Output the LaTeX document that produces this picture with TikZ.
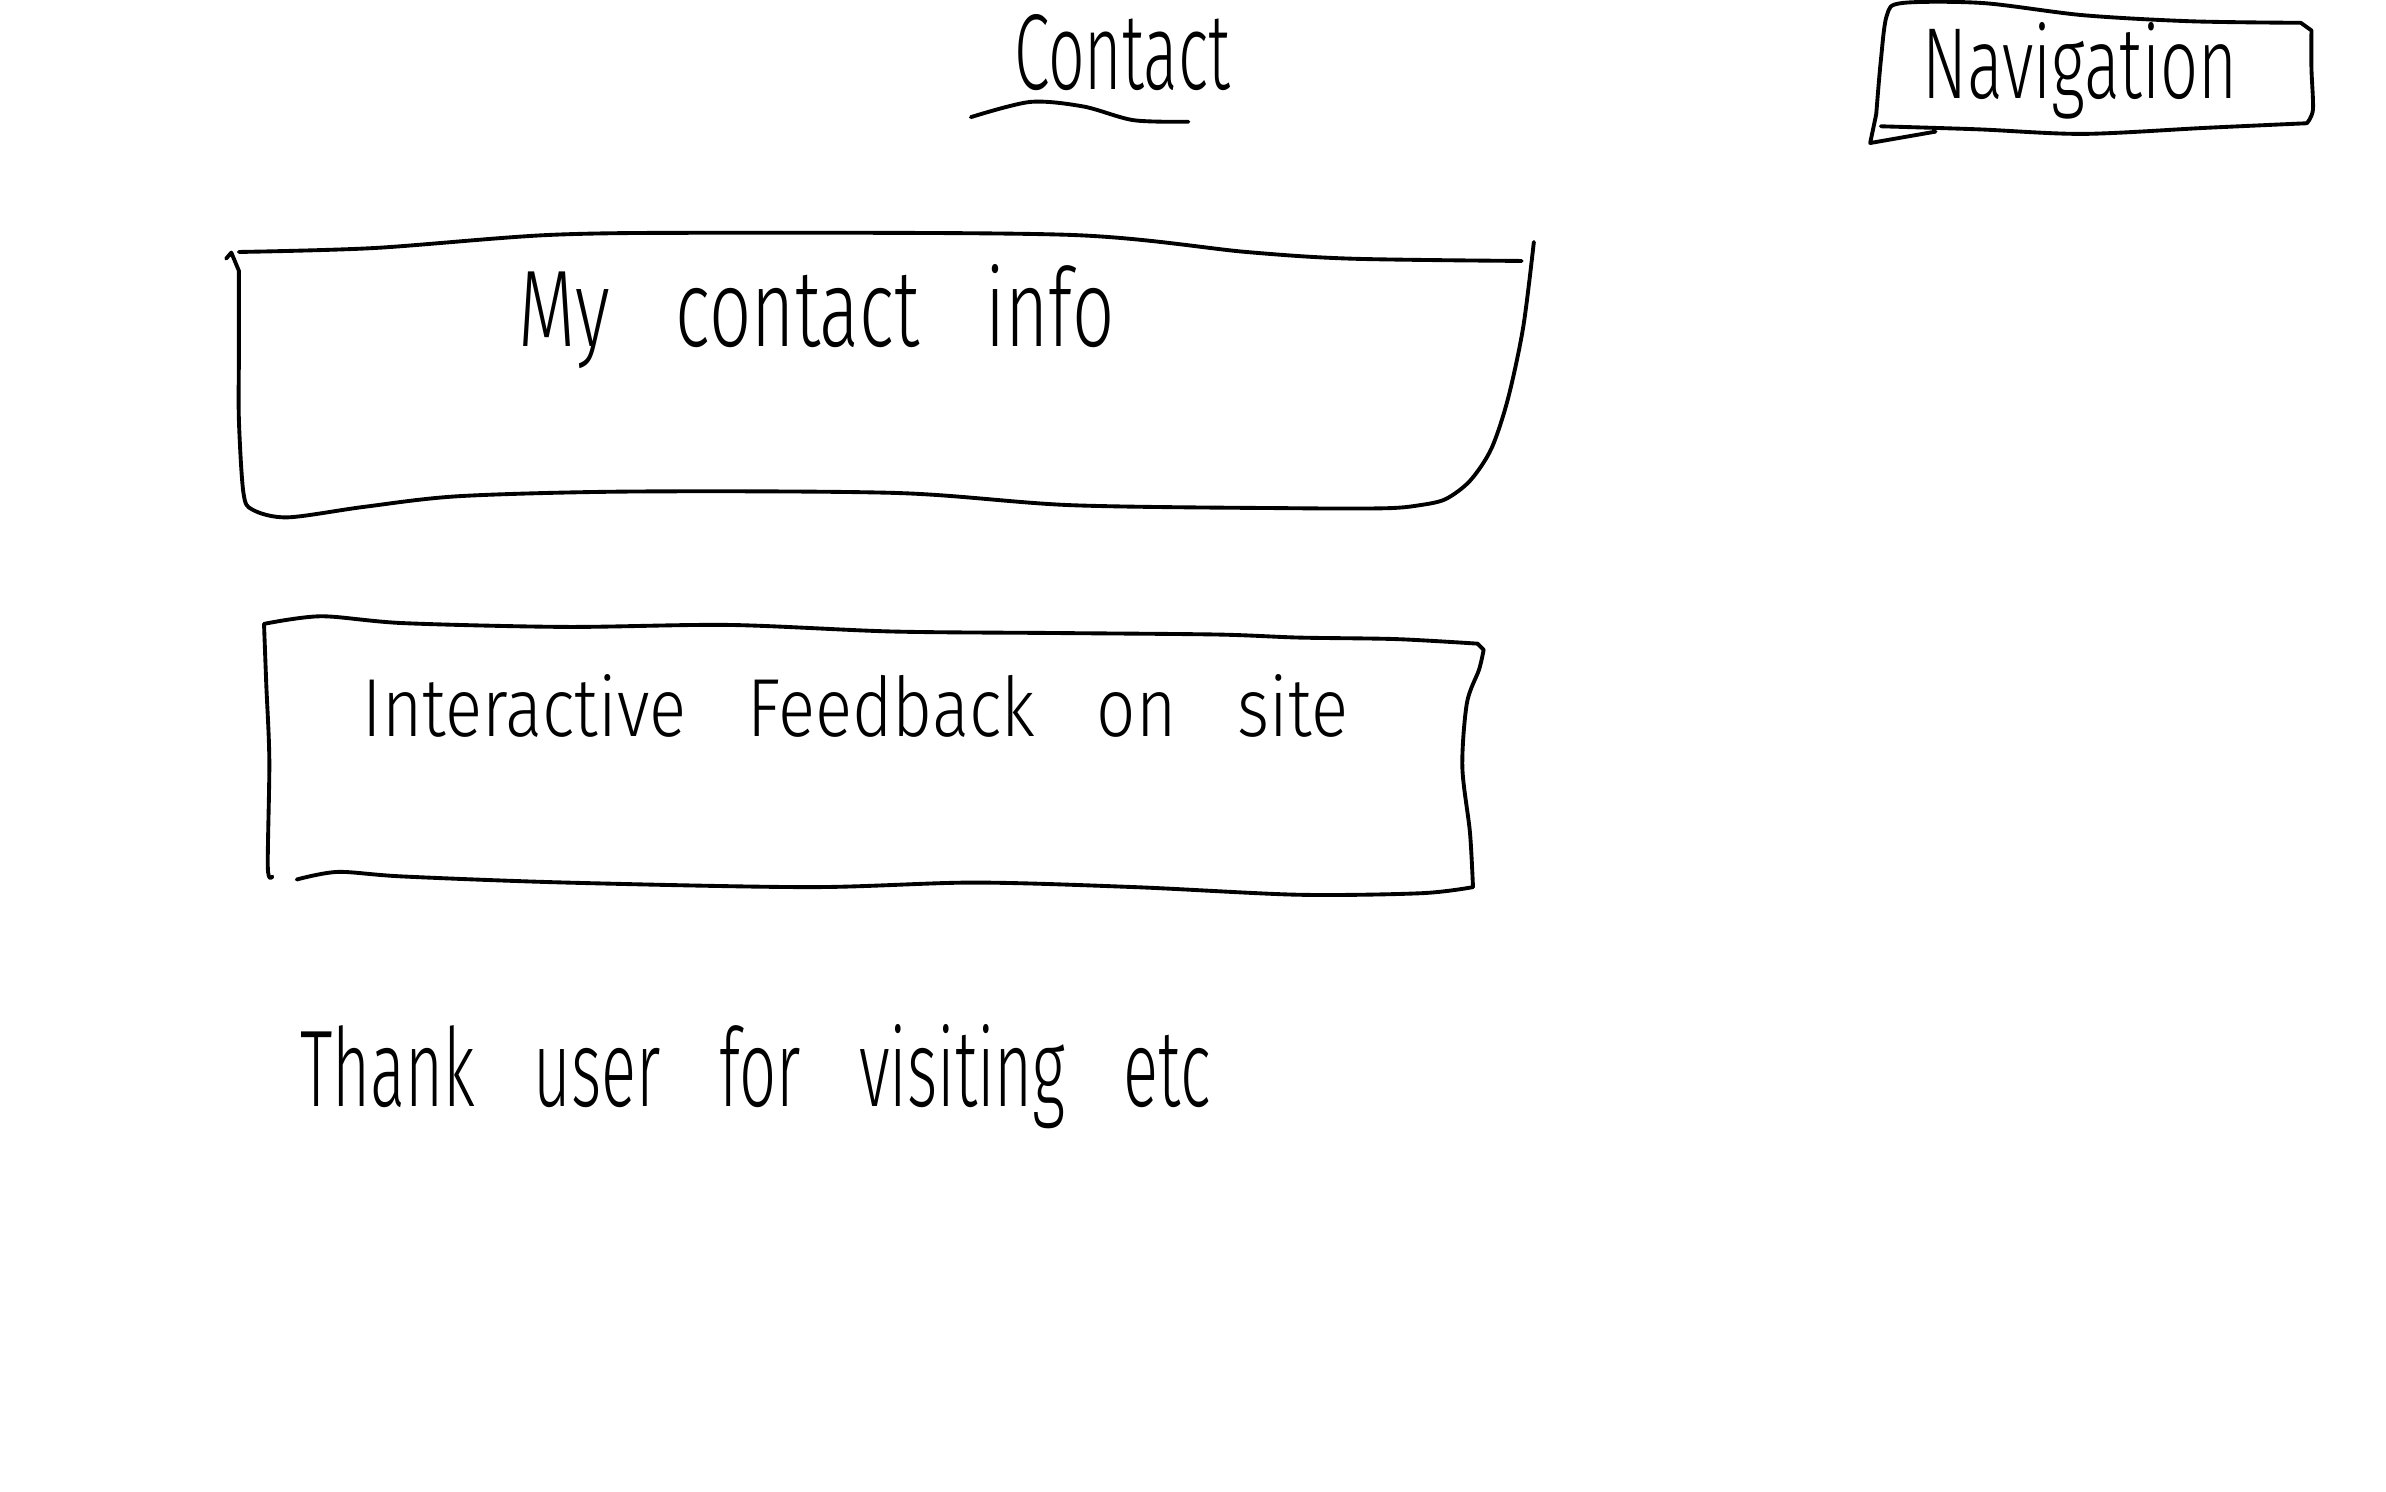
\documentclass[tikz,border=0pt]{standalone}
\usepackage{fontspec}
\usepackage{graphicx}
\newfontfamily\handfont[WordSpace=3.2]{Fira Sans Light}
\usetikzlibrary{positioning}

\tikzset{
  sketch/.style={line width=1.1pt, line cap=round, line join=round},
  scrawl/.style={inner sep=0pt, anchor=base west, font=\handfont},
}
\newcommand{\scrawltext}[3]{\resizebox{#1cm}{#2cm}{#3}}

\begin{document}
\begin{tikzpicture}[x=0.015217cm, y=-0.015217cm]
    \useasboundingbox (0,0) rectangle (1568,980);

    \node[scrawl] (contact) at (666,59) {\scrawltext{2.16}{0.75}{Contact}};
    \node[scrawl] (navigation) at (1263,65) {\scrawltext{3.15}{0.76}{Navigation}};
    \node[scrawl] (info) at (340,228) {\scrawltext{5.96}{0.82}{My contact info}};
    \node[scrawl] (feedback) at (238,484) {\scrawltext{9.85}{0.62}{Interactive Feedback on site}};
    \node[scrawl] (thanks) at (197,727) {\scrawltext{9.10}{0.82}{Thank user for visiting etc}};

    % underline
    \draw[sketch] plot[smooth] coordinates {(638,77) (677,67) (712,70) (745,79) (781,80)};

    % navigation box
    \draw[sketch] (1272,86.5) -- (1229,94)
        -- plot[smooth, tension=0.5] coordinates {(1233,75) (1236,40) (1240,10) (1250,2) (1303,2) (1369,10) (1440,14) (1512,15)}
        -- plot[smooth, tension=0.5] coordinates {(1519,20) (1519,45) (1520,72) (1516,81)};
    \draw[sketch] plot[smooth, tension=0.5] coordinates {(1516,81) (1450,84) (1369,88) (1300,85) (1236,83)};

    % contact info box
    \draw[sketch] (148.6,170) -- (152,166)
        -- plot[smooth, tension=0.5] coordinates {(157,178) (157,232) (157,276) (160,324) (166,335) (189,340) (240,333) (303,326) (418,323) (590,324) (704,332) (850,334) (911,334) (933,332) (950,328) (966,316) (980,295) (991,262) (1001,215) (1008,159)};
    \draw[sketch] plot[smooth, tension=0.5] coordinates {(157,165.6) (246,163) (361,154.4) (475,153) (704,154.4) (819,165.6) (888,170) (1000,171.5)};

    % feedback box
    \draw[sketch] plot[smooth, tension=0.5] coordinates {(173.5,410) (211,405) (265,409.5) (372,412) (479,410.7) (586,415) (693,416) (800,417) (853.5,419) (917.5,420) (971,423)}
        -- plot[smooth, tension=0.5] coordinates {(975,427) (972,440) (964,462) (961,504) (966,547) (968,583)};
    \draw[sketch] plot[smooth, tension=0.5] coordinates {(968,583) (934,587) (853,588) (746,583) (640,580) (532,583) (372,580) (265,576) (222,573) (195,578)};
    \draw[sketch] plot[smooth, tension=0.5] coordinates {(173.5,410) (175,450) (177,500) (176,570) (179,576)};
\end{tikzpicture}
\end{document}
